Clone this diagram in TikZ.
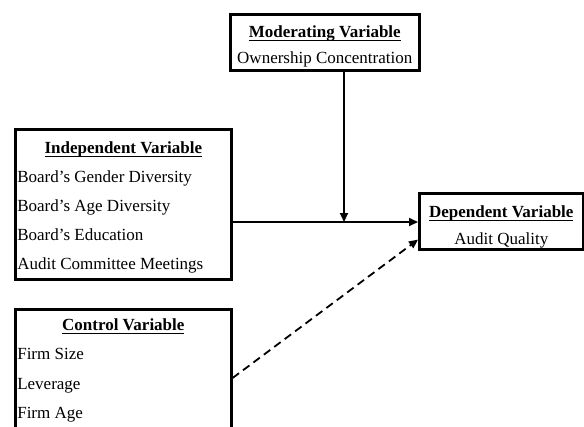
\documentclass[tikz,border=0pt]{standalone}
\usepackage{fontspec}
\setmainfont{Liberation Serif}
\usepackage{tikz}
\usetikzlibrary{calc,arrows.meta}
\tikzstyle{varbox}=[rectangle,draw=black,fill=white,line width=2.6pt,
                    inner sep=0pt,anchor=north west]
\tikzstyle{link}=[line width=1.8pt,-{Triangle[length=9pt,width=8pt]}]
\newcommand\headline[1]{\setbox0\hbox{\textbf{#1}}\rlap{\rule[-4pt]{\wd0}{1.4pt}}\box0}
% centred box text
\newcommand\varlabel[6]{\parbox[c][#2][t]{#1}{\fontsize{17pt}{#4}\selectfont\centering
    \rule{0pt}{#3}\headline{#5}\\ #6}}
% left aligned box text
\newcommand\varlabell[6]{\parbox[c][#2][t]{#1}{\fontsize{17pt}{#4}\selectfont
    {\centering\rule{0pt}{#3}\headline{#5}\par}
    \raggedright\leftskip=2pt #6}}
\begin{document}
\begin{tikzpicture}[x=1pt,y=-1pt]
    \useasboundingbox (0,0) rectangle (584,426);
    \clip (0,0) rectangle (584,426);
    	\node [varbox] (moderating) at (229,13) {
    		\varlabel{189pt}{56pt}{23pt}{26pt}{Moderating Variable}{Ownership Concentration}
    	};
    	\node [varbox] (independent) at (14,128) {
    		\varlabell{216pt}{150pt}{24pt}{29pt}{Independent Variable}{Board’s Gender Diversity\\
    		Board’s Age Diversity\\ Board’s Education\\ Audit Committee Meetings}
    	};
    	\node [varbox] (dependent) at (418,192) {
    		\varlabel{164pt}{56pt}{24pt}{27pt}{Dependent Variable}{Audit Quality}
    	};
    	\node [varbox] (control) at (14,308) {
    		\varlabell{216pt}{140pt}{21pt}{29.5pt}{Control Variable}{Firm Size\\
    		Leverage\\ Firm Age}
    	};
    	\coordinate (junction) at (344,222);
    	\draw [link] (independent.east |- junction) -- (dependent.west |- junction);
    	\draw [link] (junction |- moderating.south) -- (junction);
    	\draw [link,dash pattern=on 8pt off 5pt]
    		($(control.north east)+(0,70)$) -- ($(dependent.south west)+(0,-11)$);
    \end{tikzpicture}
\end{document}
